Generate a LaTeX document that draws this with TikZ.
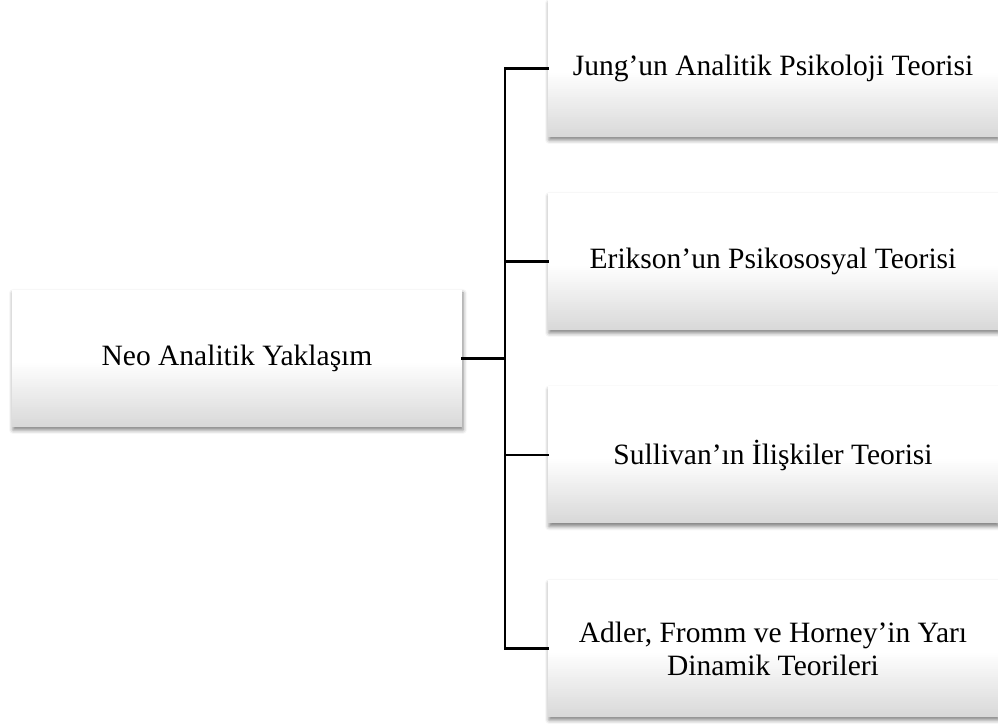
\documentclass[tikz,border=0pt]{standalone}
\usepackage{fontspec}
\setmainfont{Liberation Serif}
\usetikzlibrary{shadows.blur}
\begin{document}
\begin{tikzpicture}[x=1pt,y=1pt,
  box/.style={rectangle, inner sep=0pt, minimum width=450pt, minimum height=137pt,
    fill=white,
    % soft fade from white to light grey over the lower part of the box
    path picture={
      \foreach \i in {0,...,31}{
        \pgfmathsetmacro\tone{15*(1-\i/32)}
        \fill[black!\tone] ([yshift={2pt*\i}]path picture bounding box.south west)
          rectangle ([yshift={2pt*\i+2.3pt}]path picture bounding box.south east);
      }},
    blur shadow={shadow xshift=1pt, shadow yshift=-3pt, shadow blur radius=4pt,
      shadow opacity=50},
    font=\fontsize{29.5}{33}\selectfont, align=center},
  link/.style={line width=2.6pt, line cap=rect}]
  \useasboundingbox (0,0) rectangle (998,725);
  % root and branch boxes
  \node[box] (root) at (237,366.5) {Neo Analitik Yaklaşım};
  \node[box] (b1) at (773,656.5) {Jung’un Analitik Psikoloji Teorisi};
  \node[box] (b2) at (773,463.5) {Erikson’un Psikososyal Teorisi};
  \node[box] (b3) at (773,270) {Sullivan’ın İlişkiler Teorisi};
  \node[box] (b4) at (773,76.5) {Adler, Fromm ve Horney’in Yarı\\Dinamik Teorileri};
  % tree connectors
  \coordinate (trunk) at (505,366.5);
  \draw[link] (root.east) -- (trunk);
  \draw[link] (b1.west) -| (trunk) |- (b4.west);
  \draw[link] (b2.west) -- (b2.west -| trunk);
  \draw[link] (b3.west) -- (b3.west -| trunk);
\end{tikzpicture}
\end{document}
